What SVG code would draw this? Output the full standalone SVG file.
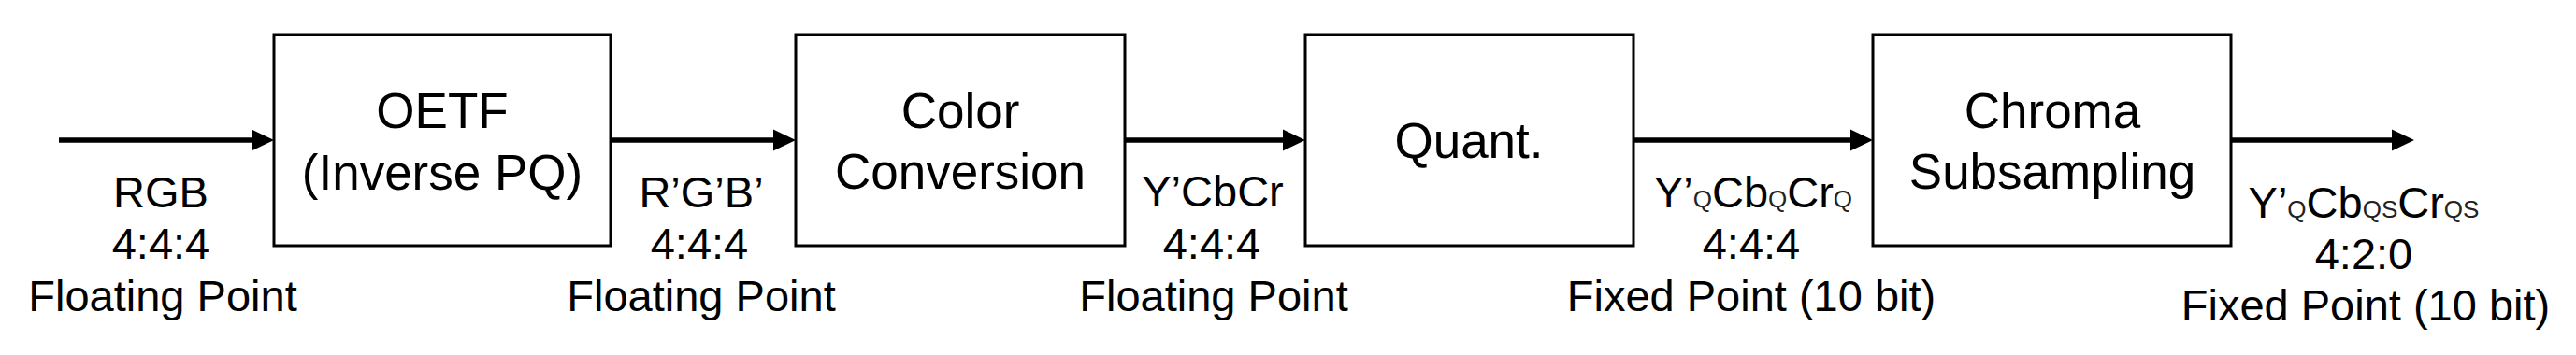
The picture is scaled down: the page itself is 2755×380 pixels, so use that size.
<svg xmlns="http://www.w3.org/2000/svg" width="2755" height="380" viewBox="0 0 2755 380">
<style>
.box{fill:#fff;stroke:#000;stroke-width:3}
.bt{font-family:"Liberation Sans",Arial,sans-serif;font-size:53px;fill:#000;text-anchor:middle}
.lb{font-family:"Liberation Sans",Arial,sans-serif;font-size:47px;fill:#000;text-anchor:middle}
.sub{font-size:26px;fill:#222}
.conn{stroke:#000;stroke-width:5.5;fill:none;marker-end:url(#ah)}
</style>
<defs>
<marker id="ah" markerUnits="userSpaceOnUse" markerWidth="24" markerHeight="24" refX="12" refY="12" orient="auto">
<path d="M0,0.5 L24,12 L0,23.5 Z" fill="#000"/>
</marker>
</defs>
<rect width="2755" height="380" fill="#fff"/>
<g id="connectors">
<line class="conn" x1="63" y1="150" x2="281" y2="150"/>
<line class="conn" x1="653" y1="150" x2="839" y2="150"/>
<line class="conn" x1="1203" y1="150" x2="1384" y2="150"/>
<line class="conn" x1="1747" y1="150" x2="1991" y2="150"/>
<line class="conn" x1="2386" y1="150" x2="2570" y2="150"/>
</g>
<g id="oetf">
<rect class="box" x="293" y="37" width="360" height="226"/>
<text class="bt" x="473" y="137">OETF</text>
<text class="bt" x="473" y="203">(Inverse PQ)</text>
</g>
<g id="color-conversion">
<rect class="box" x="851" y="37" width="352" height="226"/>
<text class="bt" x="1027" y="137">Color</text>
<text class="bt" x="1027" y="202">Conversion</text>
</g>
<g id="quant">
<rect class="box" x="1396" y="37" width="351" height="226"/>
<text class="bt" x="1571" y="169">Quant.</text>
</g>
<g id="chroma-subsampling">
<rect class="box" x="2003" y="37" width="383" height="226"/>
<text class="bt" x="2195" y="137">Chroma</text>
<text class="bt" x="2195" y="202">Subsampling</text>
</g>
<g id="labels">
<text class="lb" x="172" y="222">RGB</text>
<text class="lb" x="172" y="277">4:4:4</text>
<text class="lb" x="174" y="333">Floating Point</text>
<text class="lb" x="750" y="222">R’G’B’</text>
<text class="lb" x="748" y="277">4:4:4</text>
<text class="lb" x="750" y="333">Floating Point</text>
<text class="lb" x="1297" y="221">Y’CbCr</text>
<text class="lb" x="1296" y="277">4:4:4</text>
<text class="lb" x="1298" y="333">Floating Point</text>
<text class="lb" x="1875" y="222">Y’<tspan class="sub">Q</tspan>Cb<tspan class="sub">Q</tspan>Cr<tspan class="sub">Q</tspan></text>
<text class="lb" x="1873" y="277">4:4:4</text>
<text class="lb" x="1873" y="333">Fixed Point (10 bit)</text>
<text class="lb" x="2528" y="233">Y’<tspan class="sub">Q</tspan>Cb<tspan class="sub">QS</tspan>Cr<tspan class="sub">QS</tspan></text>
<text class="lb" x="2528" y="288">4:2:0</text>
<text class="lb" x="2530" y="343">Fixed Point (10 bit)</text>
</g>
</svg>
